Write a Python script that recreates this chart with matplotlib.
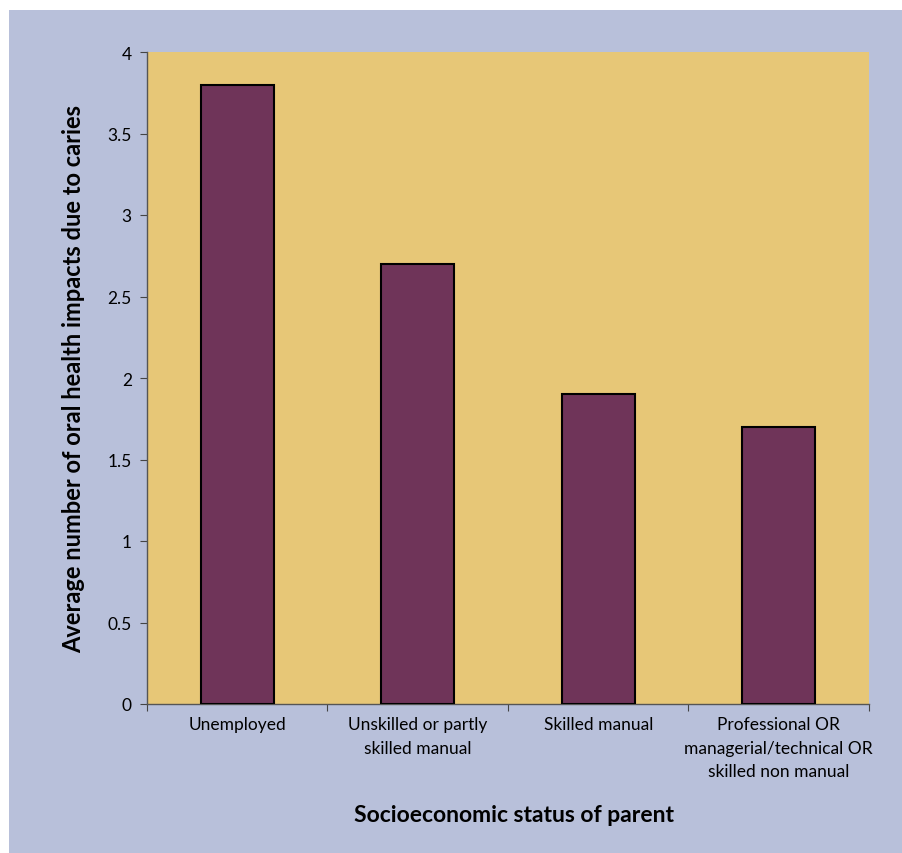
import matplotlib
matplotlib.use("Agg")
import matplotlib.pyplot as plt
from matplotlib.patches import Rectangle

categories = [
    "Unemployed",
    "Unskilled or partly\nskilled manual",
    "Skilled manual",
    "Professional OR\nmanagerial/technical OR\nskilled non manual",
]
values = [3.8, 2.7, 1.9, 1.7]
y_ticks = [0, 0.5, 1, 1.5, 2, 2.5, 3, 3.5, 4]
y_tick_labels = ["0", "0.5", "1", "1.5", "2", "2.5", "3", "3.5", "4"]

W, H = 903, 854
plt.rcParams["font.family"] = ["Lato", "DejaVu Sans"]

fig = plt.figure(figsize=(W / 100, H / 100), dpi=100)
fig.patch.set_facecolor("white")
fig.patches.append(Rectangle((9 / W, -0.01), 1.02 - 9 / W, (H - 11) / H + 0.01,
                             transform=fig.transFigure, facecolor="#B8C0DA",
                             edgecolor="none", zorder=-10))

ax = fig.add_axes([147 / W, (H - 705) / H, 722 / W, 652 / H])
ax.set_zorder(1)
ax.set_facecolor("#E7C777")

x = list(range(len(categories)))
ax.bar(x, values, width=0.405, color="#6F3459", edgecolor="black", linewidth=1.5, zorder=3)

ax.set_xlim(-0.5, len(categories) - 0.5)
ax.set_ylim(0, 4)
ax.set_yticks(y_ticks)
ax.set_yticklabels(y_tick_labels, fontsize=12.5)

ax.set_xticks([i - 0.5 for i in range(len(categories) + 1)])
ax.set_xticklabels([])
ax.set_xticks(x, minor=True)
ax.set_xticklabels(categories, minor=True, fontsize=12.5, linespacing=1.55, va="top")
ax.tick_params(axis="x", which="minor", length=0, pad=9)
ax.tick_params(axis="x", which="major", length=5, color="#444444", direction="out")
ax.tick_params(axis="y", length=5, color="#444444", direction="out", pad=6)

for s in ["top", "right"]:
    ax.spines[s].set_visible(False)
for s in ["left", "bottom"]:
    ax.spines[s].set_color("#555555")
    ax.spines[s].set_linewidth(1.0)

ax.set_ylabel("Average number of oral health impacts due to caries",
              fontsize=17, fontweight="bold", labelpad=16)
fig.text(514 / W, 1 - 816 / H, "Socioeconomic status of parent",
         ha="center", va="center", fontsize=16.5, fontweight="bold")

fig.savefig("out.png", dpi=100)
